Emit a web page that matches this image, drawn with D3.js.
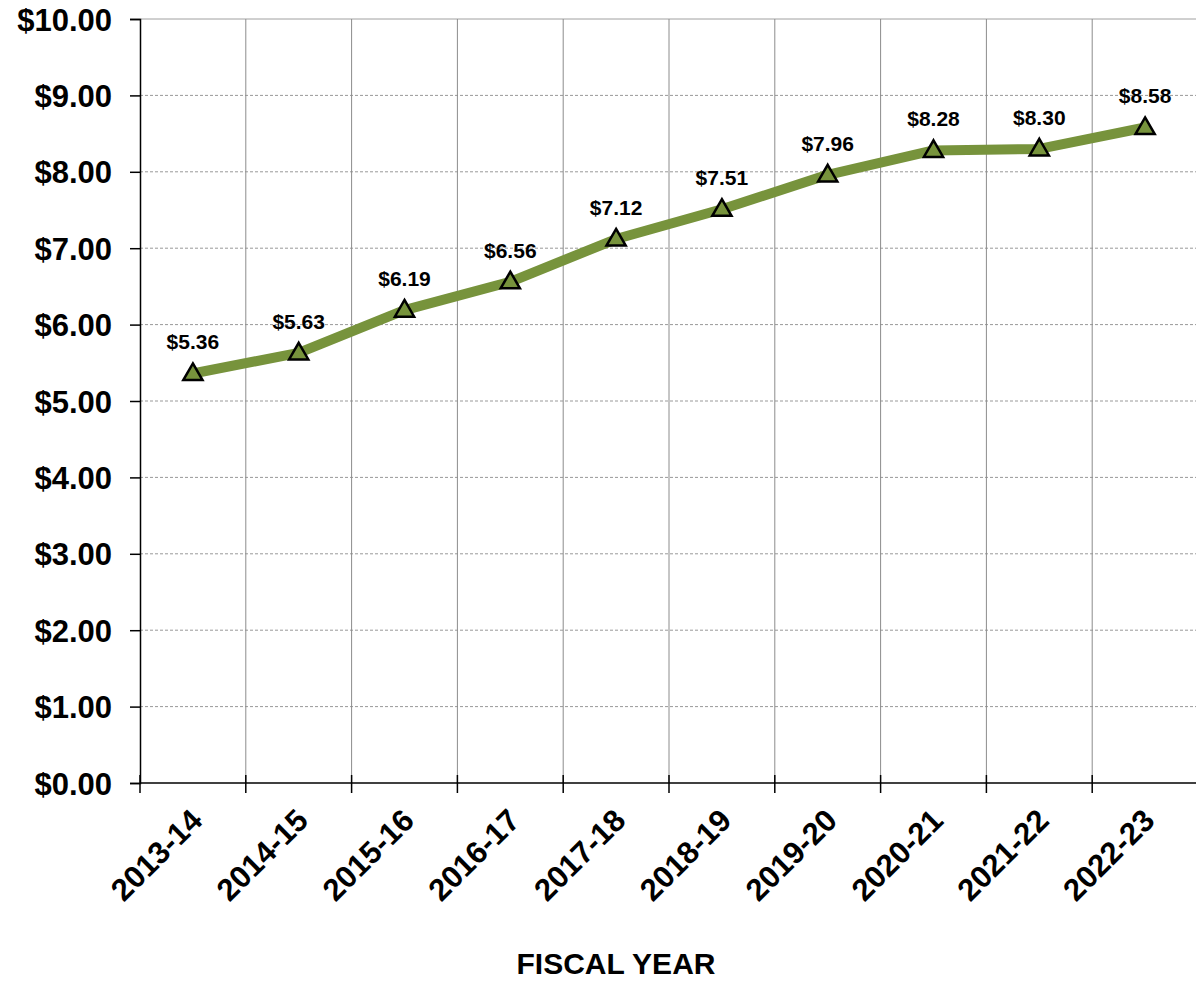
<!DOCTYPE html>
<html>
<head>
<meta charset="utf-8">
<script src="https://cdn.jsdelivr.net/npm/d3@7"></script>
<style>
  body { margin: 0; background: #fff; }
  text { font-family: "Liberation Sans", Arial, sans-serif; font-weight: bold; fill: #000; }
</style>
</head>
<body>
<div id="chart"></div>
<script>
const years = ["2013-14", "2014-15", "2015-16", "2016-17", "2017-18", "2018-19", "2019-20", "2020-21", "2021-22", "2022-23"];
const values = [5.36, 5.63, 6.19, 6.56, 7.12, 7.51, 7.96, 8.28, 8.30, 8.58];
const yTicks = [0, 1, 2, 3, 4, 5, 6, 7, 8, 9, 10];

const width = 1196, height = 983;
const margin = {top: 19, right: 0, bottom: 200, left: 140};

const svg = d3.select("#chart").append("svg")
    .attr("width", width)
    .attr("height", height);

const x = d3.scaleBand()
    .domain(years)
    .range([margin.left, margin.left + 105.8 * years.length]);

const y = d3.scaleLinear()
    .domain([0, 10])
    .range([783, margin.top]);

// horizontal dashed grid
svg.append("g").selectAll("line")
    .data(yTicks.filter(d => d > 0))
    .join("line")
    .attr("x1", margin.left)
    .attr("x2", width)
    .attr("y1", d => y(d))
    .attr("y2", d => y(d))
    .attr("stroke", d => d === 10 ? "#a0a0a0" : "#999")
    .attr("stroke-width", 1)
    .attr("stroke-dasharray", d => d === 10 ? null : "3,2");

// vertical grid at category boundaries
svg.append("g").selectAll("line")
    .data(years.slice(1))
    .join("line")
    .attr("x1", d => x(d))
    .attr("x2", d => x(d))
    .attr("y1", y(10))
    .attr("y2", y(0))
    .attr("stroke", "#8c8c8c")
    .attr("stroke-width", 1);

// y axis
const yAxis = d3.axisLeft(y)
    .tickValues(yTicks)
    .tickSize(10)
    .tickPadding(18)
    .tickFormat(d => "$" + d3.format(".2f")(d));

svg.append("g")
    .attr("transform", `translate(${margin.left},0)`)
    .call(yAxis)
    .call(g => g.select(".domain").attr("stroke", "#000").attr("stroke-width", 1.5))
    .call(g => g.selectAll(".tick line").attr("stroke", "#000").attr("stroke-width", 1.5))
    .call(g => g.selectAll("text").style("font-size", "31px").attr("dy", "0.36em"));

// x axis: ticks at boundaries
const boundaries = years.map(d => x(d));
svg.append("line")
    .attr("x1", margin.left)
    .attr("x2", width)
    .attr("y1", y(0))
    .attr("y2", y(0))
    .attr("stroke", "#000")
    .attr("stroke-width", 1.5);

svg.append("g").selectAll("line")
    .data(boundaries)
    .join("line")
    .attr("x1", d => d)
    .attr("x2", d => d)
    .attr("y1", y(0) - 8)
    .attr("y2", y(0) + 10)
    .attr("stroke", "#000")
    .attr("stroke-width", 1.5);

svg.append("g").selectAll("text")
    .data(years)
    .join("text")
    .attr("transform", d => `translate(${x(d) + x.bandwidth() / 2 - 4},${y(0) + 24}) rotate(-45)`)
    .attr("text-anchor", "end")
    .attr("dy", "0.7em")
    .style("font-size", "31px")
    .text(d => d);

// axis title
svg.append("text")
    .attr("x", 616)
    .attr("y", 974)
    .attr("text-anchor", "middle")
    .style("font-size", "30px")
    .text("FISCAL YEAR");

// line
const pts = years.map((d, i) => ({year: d, value: values[i]}));
const line = d3.line()
    .x(d => x(d.year) + x.bandwidth() / 2)
    .y(d => y(d.value));

svg.append("path")
    .datum(pts)
    .attr("d", line)
    .attr("fill", "none")
    .attr("stroke", "#77933C")
    .attr("stroke-width", 10)
    .attr("stroke-linejoin", "round");

// markers
const tri = d3.symbol().type(d3.symbolTriangle).size(160);
svg.append("g").selectAll("path")
    .data(pts)
    .join("path")
    .attr("d", tri)
    .attr("transform", d => `translate(${x(d.year) + x.bandwidth() / 2},${y(d.value) + 1})`)
    .attr("fill", "#77933C")
    .attr("stroke", "#000")
    .attr("stroke-width", 2.5);

// data labels
svg.append("g").selectAll("text")
    .data(pts)
    .join("text")
    .attr("x", d => x(d.year) + x.bandwidth() / 2)
    .attr("y", d => y(d.value) - 24)
    .attr("text-anchor", "middle")
    .style("font-size", "21px")
    .text(d => "$" + d3.format(".2f")(d.value));
</script>
</body>
</html>
